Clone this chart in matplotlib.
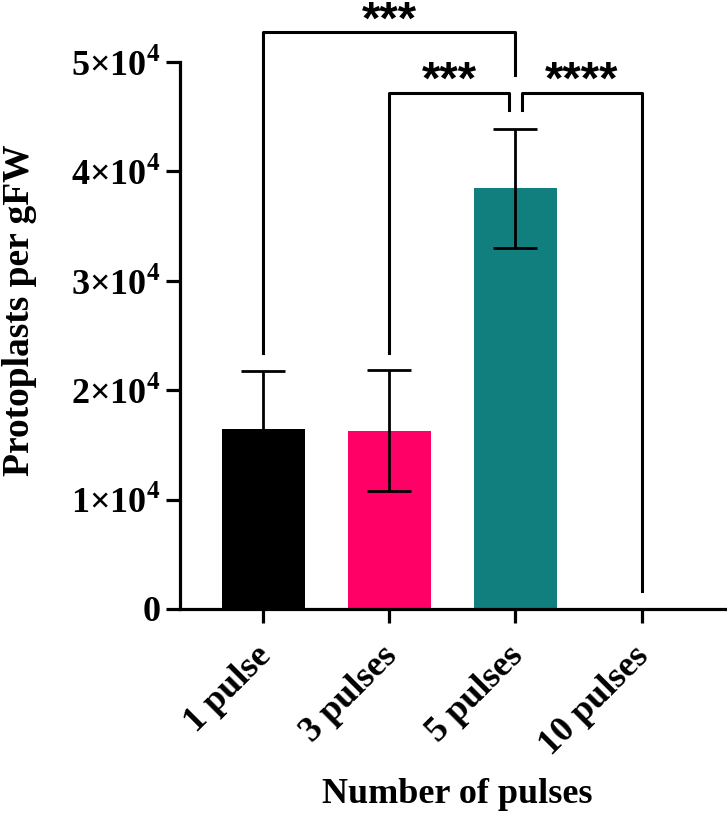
import matplotlib
matplotlib.use("Agg")
import matplotlib.pyplot as plt
from matplotlib.transforms import ScaledTranslation

# data
categories = ["1 pulse", "3 pulses", "5 pulses", "10 pulses"]
means = [16450, 16300, 38450, 0]
errors = [5300, 5500, 5450, 0]
bar_colors = ["#000000", "#FF0066", "#117F7D", "#FFFFFF"]

y_ticks = [0, 10000, 20000, 30000, 40000, 50000]
y_tick_labels = ["0"] + [f"{i}×10$^{{\\mathbf{{4}}}}$" for i in range(1, 6)]

# significance brackets: (x1, x2, bracket height, left leg end, right leg end, label)
brackets = [
    (0, 2, 52700, 23400, 48800, "***"),
    (1, 1.952, 47200, 23400, 45600, "***"),
    (2.048, 3, 47200, 45600, 1650, "****"),
]

plt.rcParams["font.family"] = ["Liberation Serif", "DejaVu Serif"]
plt.rcParams["font.weight"] = "bold"
plt.rcParams["mathtext.fontset"] = "custom"
plt.rcParams["mathtext.rm"] = "Liberation Serif:bold"
plt.rcParams["mathtext.bf"] = "Liberation Serif:bold"

fig = plt.figure(figsize=(7.27, 8.15), dpi=100)
ax = fig.add_axes([0.2476, 0.2528, 0.7494, 0.6712])

x = list(range(len(categories)))
ax.bar(x, means, width=0.66, color=bar_colors, zorder=2)
ax.errorbar(x[:3], means[:3], yerr=errors[:3], fmt="none", ecolor="black",
            elinewidth=2.0, capsize=16, capthick=2.0, zorder=3)

ax.set_xlim(-0.66, 3.66)
ax.set_ylim(0, 50000)
ax.set_yticks(y_ticks)
ax.set_yticklabels(y_tick_labels)
ax.set_xticks(x)
ax.set_xticklabels(categories, rotation=45, ha="right", rotation_mode="anchor")

ax.spines["top"].set_visible(False)
ax.spines["right"].set_visible(False)
ax.spines["left"].set_linewidth(2.3)
ax.spines["bottom"].set_linewidth(2.3)
ax.tick_params(axis="both", length=10, width=2.3, labelsize=26, pad=4)
ax.tick_params(axis="x", pad=12)

# nudge the rotated labels a little to the left
shift = ScaledTranslation(-9 / 100, 0, fig.dpi_scale_trans)
for lbl in ax.get_xticklabels():
    lbl.set_transform(lbl.get_transform() + shift)

ax.set_ylabel("Protoplasts per gFW", fontsize=27, fontweight="bold")
ax.yaxis.set_label_coords(-0.294, 0.547)
ax.yaxis.label.set_va("center")
ax.set_xlabel("Number of pulses", fontsize=26, fontweight="bold")
ax.xaxis.set_label_coords(0.508, -0.3547)
ax.xaxis.label.set_va("baseline")

for x1, x2, h, y1, y2, label in brackets:
    ax.plot([x1, x1, x2, x2], [y1, h, h, y2], color="black", lw=2.2,
            clip_on=False, zorder=4)
    ax.text((x1 + x2) / 2, h - 80, label, ha="center", va="baseline",
            fontsize=34, fontweight="bold", family="Liberation Sans")

fig.savefig("out.png", dpi=100)
